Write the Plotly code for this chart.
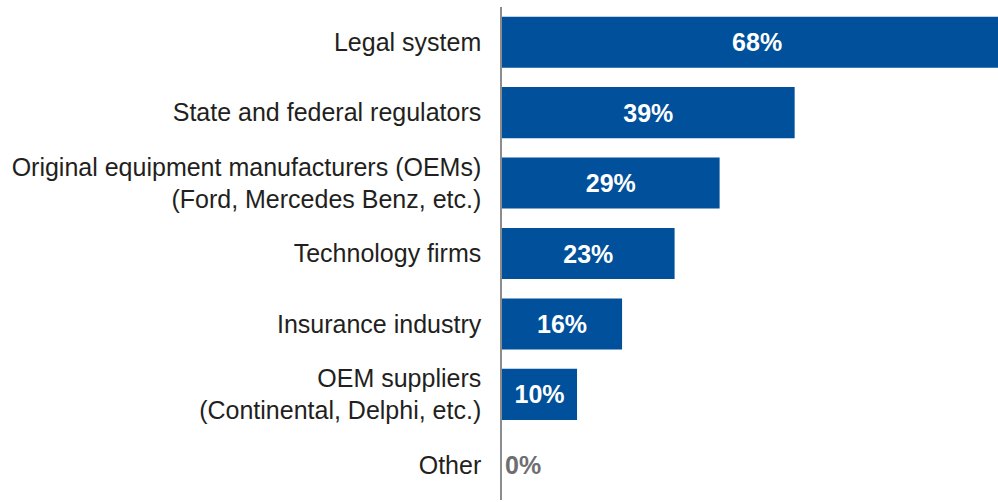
import plotly.graph_objects as go

BLUE = "#00509B"
GREY_TEXT = "#6D6E71"
AXIS_GREY = "#8C8C8C"
INK = "#231F20"

categories = [
    "Legal system",
    "State and federal regulators",
    "Original equipment manufacturers (OEMs)<br>(Ford, Mercedes Benz, etc.)",
    "Technology firms",
    "Insurance industry",
    "OEM suppliers<br>(Continental, Delphi, etc.)",
    "Other",
]
shares = [68, 39, 29, 23, 16, 10, 0]

labels = [f"{v}%" for v in shares]
text_pos = ["inside" if v > 0 else "outside" for v in shares]
text_col = ["white" if v > 0 else GREY_TEXT for v in shares]

fig = go.Figure(
    go.Bar(
        x=shares,
        y=categories,
        orientation="h",
        marker=dict(color=BLUE, line=dict(width=0)),
        width=0.725,
        text=labels,
        textposition=text_pos,
        insidetextanchor="middle",
        textangle=0,
        textfont=dict(family="Liberation Sans, Arial, sans-serif", size=25,
                      color=text_col, weight="bold"),
        constraintext="none",
        cliponaxis=True,
        hovertemplate="%{y}<br>%{x}%<extra></extra>",
    )
)

fig.update_layout(
    width=998,
    height=502,
    margin=dict(l=502, r=0, t=7, b=2),
    plot_bgcolor="white",
    paper_bgcolor="white",
    font=dict(family="Liberation Sans, Arial, sans-serif", size=25, color=INK),
    showlegend=False,
    xaxis=dict(range=[0, 66.1], visible=False, fixedrange=True),
    yaxis=dict(
        autorange="reversed",
        showline=True,
        linecolor=AXIS_GREY,
        linewidth=1.5,
        showgrid=False,
        ticks="",
        ticklabelstandoff=14,
        tickfont=dict(size=25, color=INK),
        fixedrange=True,
    ),
)

# page body has a default 8px margin; drop it so the figure sits at the corner
fig.write_html(
    "out.html",
    config={"displayModeBar": False},
    post_script="document.body.style.margin='0';",
)
